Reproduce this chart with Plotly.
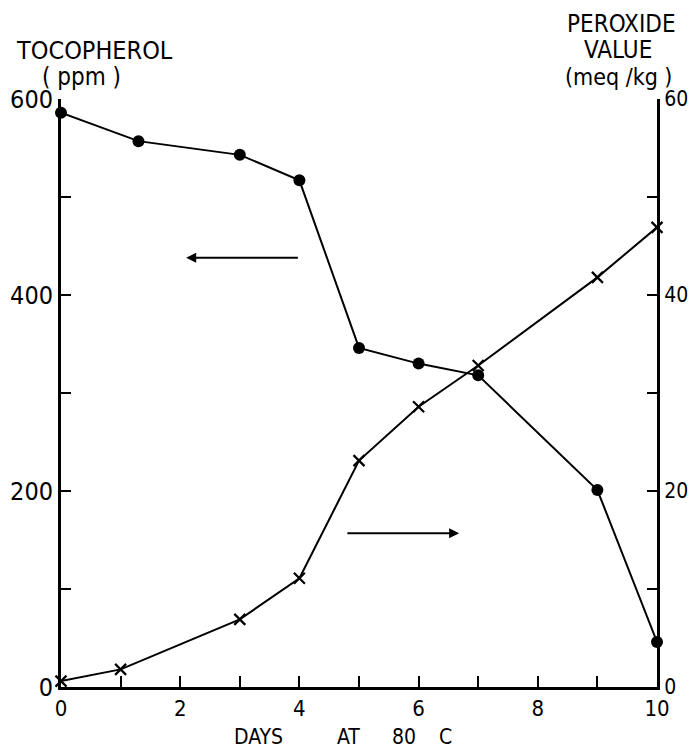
import plotly.graph_objects as go

# Tocopherol (ppm), left axis
toco_days = [0, 1.3, 3, 4, 5, 6, 7, 9, 10]
toco_ppm = [586, 557, 543, 517, 346, 330, 318, 201, 46]

# Peroxide value (meq/kg), right axis
perox_days = [0, 1, 3, 4, 5, 6, 7, 9, 10]
perox_val = [0.6, 1.8, 6.9, 11.1, 23.1, 28.6, 32.8, 41.8, 46.9]

x_ticks = list(range(0, 11))
x_labels = [str(v) if v % 2 == 0 else "" for v in x_ticks]
y_ticks = [0, 100, 200, 300, 400, 500, 600]
y_labels = ["0", "", "200", "", "400", "", "600"]
y2_ticks = [0, 10, 20, 30, 40, 50, 60]
y2_labels = ["0", "", "20", "", "40", "", "60"]

FONT = "Liberation Sans Narrow, DejaVu Sans Condensed, Arial Narrow, Liberation Sans, sans-serif"

fig = go.Figure()
fig.add_trace(go.Scatter(
    x=toco_days, y=toco_ppm, mode="lines+markers",
    line=dict(color="black", width=2),
    marker=dict(symbol="circle", size=12, color="black"),
    cliponaxis=False, showlegend=False,
))
fig.add_trace(go.Scatter(
    x=perox_days, y=perox_val, mode="lines+markers", yaxis="y2",
    line=dict(color="black", width=2),
    marker=dict(symbol="x-thin", size=11, line=dict(color="black", width=2.2)),
    cliponaxis=False, showlegend=False,
))

# direction arrows
fig.add_annotation(x=2.1, y=438, ax=4.0, ay=438, xref="x", yref="y", axref="x", ayref="y",
                   text="", showarrow=True, arrowhead=2, arrowsize=1, arrowwidth=2, arrowcolor="black")
fig.add_annotation(x=6.68, y=157, ax=4.78, ay=157, xref="x", yref="y", axref="x", ayref="y",
                   text="", showarrow=True, arrowhead=2, arrowsize=1, arrowwidth=2, arrowcolor="black")

def px2paper(px, py):
    return (px - 61) / 596, (687 - py) / 588

for txt, px, py, size in [
    ("TOCOPHEROL", 94, 51, 25),
    ("( ppm )", 81, 77, 24),
    ("PEROXIDE", 621, 24, 24),
    ("VALUE", 618, 50, 24),
    ("(meq /kg )", 618, 77, 23),
    ("DAYS", 258, 737, 21),
    ("AT", 348, 737, 21),
    ("80", 404, 737, 21),
    ("C", 445, 737, 21),
]:
    xx, yy = px2paper(px, py)
    fig.add_annotation(x=xx, y=yy, xref="paper", yref="paper", text=txt, showarrow=False,
                       xanchor="center", yanchor="middle", font=dict(size=size, color="black", family=FONT))

fig.update_layout(
    width=690, height=751,
    margin=dict(l=61, r=33, t=99, b=64, autoexpand=False),
    paper_bgcolor="white", plot_bgcolor="white",
    font=dict(family=FONT, color="black"),
    xaxis=dict(range=[0, 10], tickvals=x_ticks, ticktext=x_labels, ticks="inside", ticklen=11,
               tickwidth=2, tickcolor="black", showline=True, linewidth=3, linecolor="black",
               showgrid=False, zeroline=False, tickfont=dict(size=22), automargin=False),
    yaxis=dict(range=[0, 600], tickvals=y_ticks, ticktext=y_labels, ticks="inside", ticklen=10,
               tickwidth=2, tickcolor="black", showline=True, linewidth=3, linecolor="black",
               showgrid=False, zeroline=False, tickfont=dict(size=25), automargin=False),
    yaxis2=dict(range=[0, 60], overlaying="y", side="right", tickvals=y2_ticks, ticktext=y2_labels,
                ticks="inside", ticklen=10, tickwidth=2, tickcolor="black", showline=True,
                linewidth=3, linecolor="black", showgrid=False, zeroline=False,
                tickfont=dict(size=21), automargin=False),
)

fig.write_html("out.html", config={"displayModeBar": False},
               post_script="document.body.style.margin='0';document.body.style.overflow='hidden';")
